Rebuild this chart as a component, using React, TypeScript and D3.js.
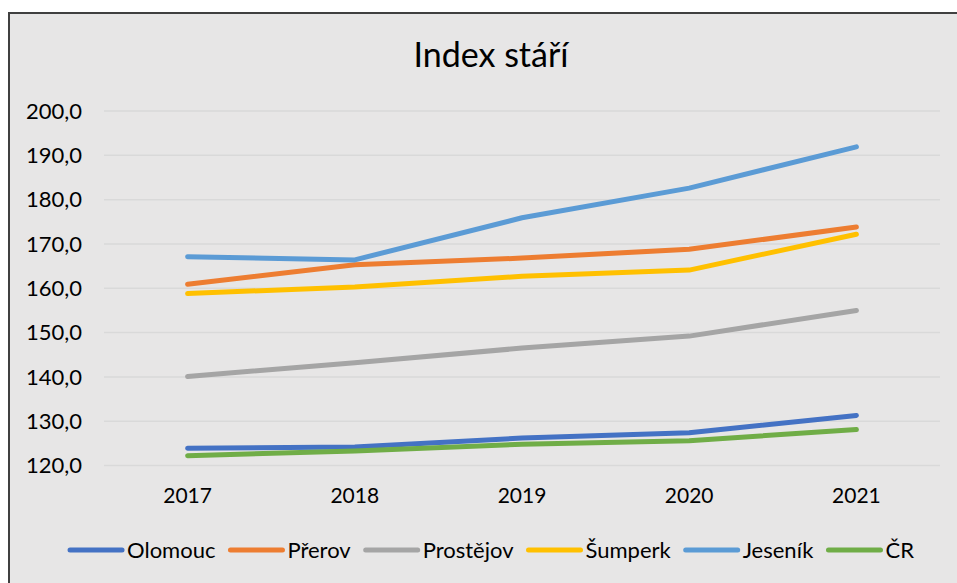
import React from "react";
import * as d3 from "d3";

const years = ["2017", "2018", "2019", "2020", "2021"];
const olomouc = [123.9, 124.2, 126.2, 127.4, 131.3];
const prerov = [160.9, 165.3, 166.8, 168.8, 173.8];
const prostejov = [140.1, 143.2, 146.5, 149.2, 155.0];
const sumperk = [158.8, 160.3, 162.7, 164.1, 172.2];
const jesenik = [167.1, 166.4, 175.9, 182.6, 191.9];
const cr = [122.2, 123.3, 124.8, 125.6, 128.1];
const yTicks = [120, 130, 140, 150, 160, 170, 180, 190, 200];

const series = [
  { name: "Olomouc", values: olomouc, color: "#4472C4" },
  { name: "Přerov", values: prerov, color: "#ED7D31" },
  { name: "Prostějov", values: prostejov, color: "#A5A5A5" },
  { name: "Šumperk", values: sumperk, color: "#FFC000" },
  { name: "Jeseník", values: jesenik, color: "#5B9BD5" },
  { name: "ČR", values: cr, color: "#70AD47" },
];

const W = 957;
const H = 583;
const FONT = "Lato, 'Open Sans', sans-serif";
const chartLeft = 9;
const chartTop = 13;
const chartRight = 973;
const plotLeft = 104;
const plotRight = 940;
const plotTop = 111;
const plotBottom = 465.5;

function measure(text: string, size: number): number {
  const c = document.createElement("canvas");
  const ctx = c.getContext("2d");
  if (!ctx) return text.length * size * 0.5;
  ctx.font = `${size}px Lato`;
  return ctx.measureText(text).width;
}

export default function App() {
  const x = d3.scaleBand<string>().domain(years).range([plotLeft, plotRight]).padding(0);
  const y = d3.scaleLinear().domain([120, 200]).range([plotBottom, plotTop]);
  const line = d3
    .line<number>()
    .x((_, i) => (x(years[i]) as number) + x.bandwidth() / 2)
    .y((d) => y(d));

  const legendSize = 22;
  const symLen = 56;
  const symGap = 3;
  const itemGap = 13;
  const items = series.map((s) => ({ ...s, w: measure(s.name, legendSize) }));
  const total =
    items.reduce((a, it) => a + symLen + symGap + it.w, 0) + itemGap * (items.length - 1);
  const center = (chartLeft + chartRight) / 2;
  let cursor = center - total / 2;
  const legendY = 550;
  const legendItems = items.map((it) => {
    const x0 = cursor;
    cursor += symLen + symGap + it.w + itemGap;
    return { ...it, x0 };
  });

  return (
    <svg
      width={W}
      height={H}
      style={{ position: "absolute", left: 0, top: 0, background: "#ffffff" }}
      fontFamily={FONT}
    >
      <rect
        x={chartLeft}
        y={chartTop}
        width={chartRight - chartLeft}
        height={H + 20 - chartTop}
        fill="#e7e6e6"
        stroke="#404040"
        strokeWidth={2}
      />
      <text x={center} y={67} textAnchor="middle" fontSize={34} fill="#000">
        Index stáří
      </text>
      {yTicks.map((t) => (
        <g key={t}>
          <line x1={plotLeft} x2={plotRight} y1={y(t)} y2={y(t)} stroke="#d9d9d9" strokeWidth={1.5} />
          <text x={82} y={y(t)} dy="0.35em" textAnchor="end" fontSize={22} fill="#000">
            {t.toFixed(1).replace(".", ",")}
          </text>
        </g>
      ))}
      {years.map((yr) => (
        <text
          key={yr}
          x={(x(yr) as number) + x.bandwidth() / 2}
          y={503}
          textAnchor="middle"
          fontSize={21}
          fill="#000"
        >
          {yr}
        </text>
      ))}
      {series.map((s) => (
        <path
          key={s.name}
          d={line(s.values) || ""}
          fill="none"
          stroke={s.color}
          strokeWidth={5}
          strokeLinecap="round"
          strokeLinejoin="round"
        />
      ))}
      {legendItems.map((it) => (
        <g key={it.name}>
          <line
            x1={it.x0 + 2}
            x2={it.x0 + symLen - 2}
            y1={legendY}
            y2={legendY}
            stroke={it.color}
            strokeWidth={5}
            strokeLinecap="round"
          />
          <text x={it.x0 + symLen + symGap} y={legendY} dy="0.35em" fontSize={legendSize} fill="#000">
            {it.name}
          </text>
        </g>
      ))}
    </svg>
  );
}
